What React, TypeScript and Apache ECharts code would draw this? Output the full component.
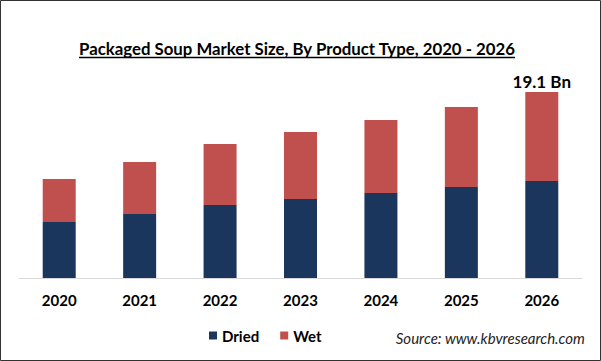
import React, { useEffect, useRef } from "react";
import * as echarts from "echarts";

const categories = ["2020", "2021", "2022", "2023", "2024", "2025", "2026"];
const dried = [5.75, 6.57, 7.5, 8.11, 8.73, 9.34, 9.96];
const wet = [4.42, 5.34, 6.26, 6.88, 7.49, 8.22, 9.14];
const topLabel = "19.1 Bn";

const FONT = "Lato, 'Open Sans', sans-serif";

export default function App() {
  const ref = useRef<HTMLDivElement>(null);
  useEffect(() => {
    document.body.style.margin = "0";
    const chart = echarts.init(ref.current!, null, { renderer: "svg" });
    const last = categories.length - 1;
    chart.setOption({
      animation: false,
      backgroundColor: "#ffffff",
      title: {
        text: "Packaged Soup Market Size, By Product Type, 2020 - 2026",
        left: 74,
        top: 35,
        textStyle: {
          fontFamily: FONT,
          fontSize: 16.8,
          fontWeight: "bold",
          color: "#000",
        },
      },
      legend: {
        data: ["Dried", "Wet"],
        left: 204,
        top: 323,
        icon: "rect",
        itemWidth: 8,
        itemHeight: 8,
        itemGap: 21,
        textStyle: { fontFamily: FONT, fontSize: 15, fontWeight: "bold", color: "#000" },
      },
      grid: { left: 19, right: 19, top: 83.2, bottom: 83, containLabel: false },
      xAxis: {
        type: "category",
        data: categories,
        axisLine: { show: true, lineStyle: { color: "#d9d9d9", width: 1 } },
        axisTick: { show: false },
        axisLabel: {
          margin: 14,
          fontFamily: FONT,
          fontSize: 15,
          fontWeight: "bold",
          color: "#000",
        },
      },
      yAxis: {
        type: "value",
        min: 0,
        max: 20,
        show: false,
        splitLine: { show: false },
      },
      series: [
        {
          name: "Dried",
          type: "bar",
          stack: "total",
          barWidth: 33,
          itemStyle: { color: "#1a365d" },
          data: dried,
        },
        {
          name: "Wet",
          type: "bar",
          stack: "total",
          barWidth: 33,
          itemStyle: { color: "#c0504d" },
          data: wet.map((v, i) =>
            i === last
              ? {
                  value: v,
                  label: {
                    show: true,
                    position: "top",
                    distance: 2,
                    formatter: topLabel,
                    fontFamily: FONT,
                    fontSize: 17,
                    fontWeight: "bold",
                    color: "#000",
                  },
                }
              : v
          ),
        },
      ],
      graphic: [
        {
          type: "rect",
          shape: { x: 0.5, y: 0.5, width: 600, height: 360 },
          style: { fill: "none", stroke: "#333", lineWidth: 1 },
          silent: true,
        },
        {
          type: "line",
          shape: { x1: 79, y1: 57.5, x2: 515, y2: 57.5 },
          style: { stroke: "#000", lineWidth: 1.5 },
          silent: true,
        },
        {
          type: "text",
          right: 16,
          top: 330,
          style: {
            text: "Source: www.kbvresearch.com",
            fontFamily: FONT,
            fontSize: 15,
            fontStyle: "italic",
            fill: "#222",
          },
        },
      ],
    });
    return () => chart.dispose();
  }, []);
  return <div ref={ref} style={{ width: 601, height: 361 }} />;
}
